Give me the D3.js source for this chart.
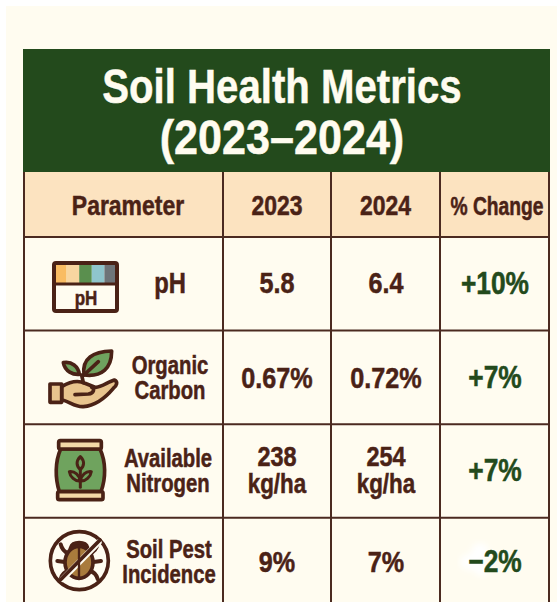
<!DOCTYPE html>
<html lang="en">
<head>
    <meta charset="utf-8">
    <title>Soil Health Metrics</title>
    <style>
        html, body { margin: 0; padding: 0; background: #fff; overflow: hidden; }
        text { font-family: "Liberation Sans", sans-serif; font-weight: 700; text-anchor: middle; }
    </style>
</head>
<body>
    <script src="https://d3js.org/d3.v7.min.js"></script>
    <script>
    var titleLines = ["Soil Health Metrics", "(2023\u20132024)"];
    var columns = ["Parameter", "2023", "2024", "% Change"];
    var parameters = [["pH"], ["Organic", "Carbon"], ["Available", "Nitrogen"], ["Soil Pest", "Incidence"]];
    var values2023 = [["5.8"], ["0.67%"], ["238", "kg/ha"], ["9%"]];
    var values2024 = [["6.4"], ["0.72%"], ["254", "kg/ha"], ["7%"]];
    var changes = ["+10%", "+7%", "+7%", "\u22122%"];
    var phSwatches = ["#f9bc62", "#f8d6a0", "#5a8f4e", "#8fc5cc", "#6e7478"];

    var width = 557, height = 602;
    var brown = "#4a2216", line = "#4b2a20", green = "#234a1c", cream = "#fffcf0";
    var colEdges = [24, 223, 331, 440, 549];
    var rowTop = 237, rowStep = 93.6;
    var rowShift = [0, 1, 0, -2.5];

    var svg = d3.select("body").append("svg").attr("width", width).attr("height", height);
    var defs = svg.append("defs");
    defs.append("filter").attr("id", "blur").append("feGaussianBlur").attr("stdDeviation", 3);

    var x = d3.scaleOrdinal().domain(columns).range(colEdges.slice(0, 4));
    var colWidth = function(c) { return colEdges[columns.indexOf(c) + 1] - colEdges[columns.indexOf(c)]; };
    var y = d3.scaleBand().domain(d3.range(parameters.length)).range([rowTop, rowTop + rowStep * parameters.length]);

    // no narrow face is installed, so squeeze the text around its centre and thicken it a bit
    function squeeze(sel, f) {
        var cx = +sel.attr("x");
        sel.attr("transform", "translate(" + cx * (1 - f) + ",0) scale(" + f + ",1)")
            .attr("stroke", sel.attr("fill"))
            .attr("stroke-width", 0.5);
    }

    // page and panels
    svg.append("rect").attr("x", 6).attr("y", 6).attr("width", width - 6).attr("height", height - 6).attr("fill", cream);
    svg.append("rect").attr("x", 23).attr("y", 49).attr("width", 527).attr("height", 123).attr("fill", green);
    svg.append("rect").attr("x", 24).attr("y", 172).attr("width", 525).attr("height", 65).attr("fill", "#fce3c0");

    var titleFit = [0.82, 0.88];
    titleLines.forEach(function(t, i) {
        svg.append("text")
            .attr("x", 282)
            .attr("y", 103 + i * 51)
            .attr("font-size", 49)
            .attr("fill", cream)
            .text(t)
            .call(squeeze, titleFit[i]);
    });

    // grid lines
    var grid = svg.append("g").attr("stroke", line).attr("stroke-width", 2).attr("fill", "none");
    colEdges.forEach(function(e) {
        grid.append("line").attr("x1", e).attr("x2", e).attr("y1", 172).attr("y2", height);
    });
    d3.range(parameters.length).forEach(function(i) {
        grid.append("line").attr("x1", 24).attr("x2", 549).attr("y1", y(i)).attr("y2", y(i));
    });

    // header
    var headFit = [0.85, 0.85, 0.85, 0.77];
    columns.forEach(function(c, i) {
        svg.append("text")
            .attr("x", i == 0 ? 128 : x(c) + colWidth(c) / 2 + (i == 3 ? 2.5 : 0))
            .attr("y", 215)
            .attr("font-size", c == "% Change" ? 25 : 27)
            .attr("fill", brown)
            .text(c)
            .call(squeeze, headFit[i]);
    });

    // multi line cell text, centred on the row
    function cell(lines, cx, i, size, gap, fill, f) {
        var cy = y(i) + y.bandwidth() / 2 - 1 + rowShift[i];
        lines.forEach(function(t, k) {
            svg.append("text")
                .attr("x", cx)
                .attr("y", cy + (k - (lines.length - 1) / 2) * gap + size * 0.35)
                .attr("font-size", size)
                .attr("fill", fill)
                .text(t)
                .call(squeeze, t == "kg/ha" ? 0.8 : f);
        });
    }

    // smudge behind the last change value
    svg.append("g").attr("filter", "url(#blur)").selectAll("ellipse")
        .data([[480, 552, 9, 9], [470, 562, 10, 8], [482, 570, 8, 6]]).enter().append("ellipse")
        .attr("cx", function(d) { return d[0]; }).attr("cy", function(d) { return d[1]; })
        .attr("rx", function(d) { return d[2]; }).attr("ry", function(d) { return d[3]; })
        .attr("fill", "#fff");

    var paramX = [170, 170, 168, 169];
    parameters.forEach(function(p, i) {
        cell(p, paramX[i], i, p.length == 1 ? 29 : 26, 25, brown, p.length == 1 ? 0.82 : 0.78);
        cell(values2023[i], 277, i, values2023[i].length == 1 ? 30 : 28, 27, brown, 0.84);
        cell(values2024[i], 386, i, values2024[i].length == 1 ? 30 : 28, 27, brown, 0.84);
        cell([changes[i]], 495, i, 31, 0, green, 0.85);
    });

    // pH strip icon
    var ph = svg.append("g");
    var sw = d3.scaleBand().domain(phSwatches).range([54, 117]);
    ph.selectAll("rect").data(phSwatches).enter().append("rect")
        .attr("x", function(d) { return sw(d); }).attr("y", 263)
        .attr("width", sw.bandwidth()).attr("height", 20).attr("fill", function(d) { return d; });
    ph.append("rect").attr("x", 54).attr("y", 263).attr("width", 63).attr("height", 48)
        .attr("rx", 2).attr("fill", "none").attr("stroke", brown).attr("stroke-width", 4);
    ph.append("line").attr("x1", 54).attr("x2", 117).attr("y1", 284).attr("y2", 284).attr("stroke", brown).attr("stroke-width", 3);
    ph.append("text").attr("x", 86).attr("y", 305).attr("font-size", 20).attr("fill", brown).text("pH").call(squeeze, 0.85);

    // hand and sprout icon (drawn on the 3x grid)
    var hand = svg.append("g").attr("transform", "translate(20,240) scale(0.3333)")
        .attr("stroke", brown).attr("stroke-width", 11).attr("stroke-linejoin", "round").attr("stroke-linecap", "round");
    hand.append("path").attr("fill", "#e8c48e")
        .attr("d", "M125,440 C150,425 175,420 195,430 L225,442 C240,445 265,425 283,420 C295,425 290,438 280,445 C255,475 225,497 190,500 C165,502 145,482 125,480 Z");
    hand.append("rect").attr("x", 90).attr("y", 432).attr("width", 35).attr("height", 55).attr("fill", "#e8c48e");
    hand.append("path").attr("fill", "none").attr("d", "M165,464 L205,462 C222,460 225,445 215,442");
    hand.append("path").attr("fill", "#6fa35e").attr("d", "M192,405 C185,355 220,335 275,333 C275,385 245,412 192,405 Z");
    hand.append("path").attr("fill", "none").attr("d", "M192,405 L235,365");
    hand.append("path").attr("fill", "#6fa35e").attr("d", "M178,403 C160,405 135,395 130,368 C155,363 175,380 178,403 Z");
    hand.append("path").attr("fill", "none").attr("d", "M185,405 L190,428");

    // fertiliser bag icon
    var bag = svg.append("g").attr("transform", "translate(20,425) scale(0.3333)")
        .attr("stroke", brown).attr("stroke-width", 11).attr("stroke-linejoin", "round").attr("stroke-linecap", "round");
    bag.append("path").attr("fill", "#6fa35e").attr("d", "M122,72 C105,110 105,160 118,200 L243,200 C258,160 258,110 240,72 Z");
    bag.append("rect").attr("x", 116).attr("y", 47).attr("width", 128).attr("height", 25).attr("rx", 5).attr("fill", "#f3d9a8");
    bag.append("rect").attr("x", 113).attr("y", 200).attr("width", 136).attr("height", 24).attr("rx", 5).attr("fill", "#f3d9a8");
    bag.append("path").attr("fill", "#6fa35e").attr("stroke-width", 9).attr("d", "M181,95 C168,108 168,122 181,134 C194,122 194,108 181,95 Z");
    bag.append("path").attr("fill", "#6fa35e").attr("stroke-width", 9).attr("d", "M181,168 C165,170 150,155 148,140 C165,138 178,150 181,168 Z");
    bag.append("path").attr("fill", "#6fa35e").attr("stroke-width", 9).attr("d", "M181,168 C197,170 212,155 214,140 C197,138 184,150 181,168 Z");
    bag.append("path").attr("fill", "none").attr("stroke-width", 9).attr("d", "M181,130 L181,187");

    // crossed out pest icon
    var bug = svg.append("g").attr("transform", "translate(20,425) scale(0.3333)")
        .attr("stroke", brown).attr("stroke-width", 11).attr("stroke-linecap", "round").attr("fill", "none");
    bug.append("circle").attr("cx", 178).attr("cy", 407).attr("r", 87).attr("fill", cream);
    bug.append("path").attr("stroke-width", 12).attr("d", "M145,385 C130,380 125,370 122,358 M140,412 L112,408 M145,438 C130,442 125,450 122,462 M210,385 C225,380 230,370 233,358 M215,412 L243,408 M210,438 C225,442 230,450 233,462");
    bug.append("path").attr("fill", brown).attr("d", "M152,368 C158,348 197,348 203,368 Z");
    bug.append("ellipse").attr("cx", 177).attr("cy", 412).attr("rx", 42).attr("ry", 48).attr("fill", "#a97b3c");
    bug.append("path").attr("stroke", cream).attr("stroke-width", 18).attr("d", "M128,462 L236,352");
    bug.append("path").attr("stroke-width", 7).attr("d", "M177,368 L177,458");
    bug.append("path").attr("d", "M118,468 L240,345");
    </script>
</body>
</html>
